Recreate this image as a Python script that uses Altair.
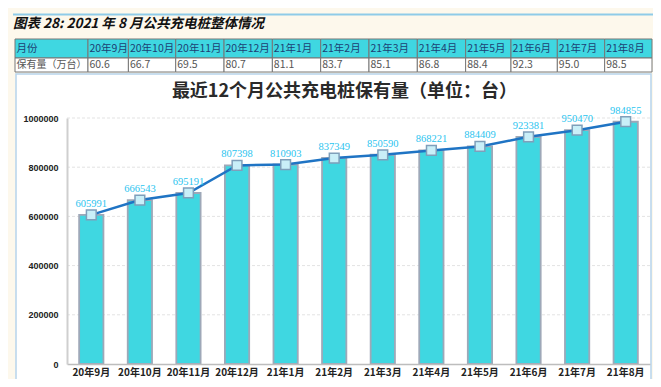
import altair as alt
import pandas as pd

# ---------------- data ----------------
months = ["20年9月", "20年10月", "20年11月", "20年12月", "21年1月", "21年2月",
          "21年3月", "21年4月", "21年5月", "21年6月", "21年7月", "21年8月"]
stock = [605991, 666543, 695191, 807398, 810903, 837349,
         850590, 868221, 884409, 923381, 950470, 984855]
stock_wan = ["60.6", "66.7", "69.5", "80.7", "81.1", "83.7",
             "85.1", "86.8", "88.4", "92.3", "95.0", "98.5"]
table_head = "月份"
table_row = "保有量（万台）"
fig_title = "图表 28: 2021 年 8 月公共充电桩整体情况"
chart_title = "最近12个月公共充电桩保有量（单位：台）"
y_ticks = [0, 200000, 400000, 600000, 800000, 1000000]

# ---------------- layout / style (pixels, plot-area frame) ----------------
PLOT_W, PLOT_H = 583, 246
PAD = {"left": 59, "top": 110, "right": 3, "bottom": 15}
col_widths = [74, 41, 48, 49, 49, 49, 49, 49, 49, 46, 47, 48, 48]
TABLE_X0, TABLE_X1 = -52, 585
ROW_EDGES = [(-79, -60), (-60, -46)]
k = (TABLE_X1 - TABLE_X0) / sum(col_widths)

CJK = "Noto Sans CJK SC"
BAR = "#3fd7e1"
CREAM = "#fdf8ec"

# table built from the data arrays
rows = []
x = TABLE_X0
for i, w in enumerate(col_widths):
    x0, x1 = x, x + w * k
    x = x1
    head = table_head if i == 0 else months[i - 1]
    body = table_row if i == 0 else stock_wan[i - 1]
    rows.append(dict(x0=x0, x1=x1, y0=ROW_EDGES[0][0], y1=ROW_EDGES[0][1],
                     tx=x0 + 1.5, ty=sum(ROW_EDGES[0]) / 2, text=head,
                     fill=BAR, tcol="#1d3f73", fs=10.5))
    rows.append(dict(x0=x0, x1=x1, y0=ROW_EDGES[1][0], y1=ROW_EDGES[1][1],
                     tx=x0 + 1.5, ty=sum(ROW_EDGES[1]) / 2, text=body,
                     fill="#ffffff", tcol="#555555", fs=10 if i == 0 else 10.5))
table_df = pd.DataFrame(rows)

one = pd.DataFrame({"a": [0]})

box = alt.Chart(one).mark_rect(fill="#ffffff", stroke="#b7d4ec", strokeWidth=1.5).encode(
    x=alt.value(-51), x2=alt.value(584), y=alt.value(-44), y2=alt.value(275))

top_rule = alt.Chart(one).mark_rule(color="#8fcbe8", strokeWidth=2).encode(
    x=alt.value(-54), x2=alt.value(586), y=alt.value(-103.5))

fig_title_mark = alt.Chart(one).mark_text(
    font=CJK, fontSize=13.5, fontWeight="bold", fontStyle="italic",
    align="left", baseline="middle", color="#111111").encode(
    x=alt.value(-54), y=alt.value(-94), text=alt.value(fig_title))

chart_title_mark = alt.Chart(one).mark_text(
    font=CJK, fontSize=18, fontWeight="bold",
    align="center", baseline="middle", color="#2a2a2a").encode(
    x=alt.value(277.5), y=alt.value(-26), text=alt.value(chart_title))

cells = alt.Chart(table_df).mark_rect(stroke="#777777", strokeWidth=1).encode(
    x=alt.X("x0:Q", scale=None), x2="x1:Q",
    y=alt.Y("y0:Q", scale=None), y2="y1:Q",
    fill=alt.Fill("fill:N", scale=None))

cell_text = alt.Chart(table_df).mark_text(font=CJK, align="left", baseline="middle").encode(
    x=alt.X("tx:Q", scale=None),
    y=alt.Y("ty:Q", scale=None),
    text="text:N",
    color=alt.Color("tcol:N", scale=None),
    size=alt.Size("fs:Q", scale=None))

df = pd.DataFrame({"month": months, "stock": stock})
grid_df = pd.DataFrame({"stock": y_ticks[1:]})

xenc = alt.X("month:N", sort=months,
             scale=alt.Scale(paddingInner=0.5, paddingOuter=0.25),
             axis=alt.Axis(title=None, labelAngle=0, labelFont=CJK, labelFontWeight="bold",
                           labelFontSize=10, labelColor="#222222", labelPadding=3,
                           ticks=False, domainColor="#bdbdbd", domainWidth=1.5,
                           grid=False, zindex=1))
yscale = alt.Scale(domain=[0, 1000000], nice=False)
yenc = alt.Y("stock:Q", scale=yscale,
             axis=alt.Axis(title=None, values=y_ticks, format="d",
                           labelFont="Liberation Sans", labelFontWeight="bold",
                           labelFontSize=9, labelColor="#222222", labelPadding=9,
                           grid=False, ticks=False, domainColor="#cfcfcf",
                           domainWidth=2, zindex=1))

grid = alt.Chart(grid_df).mark_rule(color="#e3e3e3", strokeDash=[3, 2], strokeWidth=1).encode(
    y=alt.Y("stock:Q", scale=yscale), x=alt.value(0), x2=alt.value(PLOT_W))

base = alt.Chart(df)
bars = base.mark_bar(fill=BAR, stroke="#9ea8b8", strokeWidth=1.8).encode(x=xenc, y=yenc)
line = base.mark_line(color="#1f74c4", strokeWidth=2.5).encode(x=xenc, y=yenc)
pts = base.mark_square(size=95, fill="#c9eff8", stroke="#7f9fba",
                       strokeWidth=1.5, opacity=1).encode(x=xenc, y=yenc)
labels = base.mark_text(dy=-11, color="#2ac4ef", font="Liberation Serif",
                        fontSize=10.5, baseline="middle").encode(
    x=xenc, y=yenc, text=alt.Text("stock:Q", format="d"))

chart = alt.layer(
    box, top_rule, fig_title_mark, cells, cell_text, chart_title_mark,
    grid, bars, line, pts, labels
).properties(
    width=PLOT_W, height=PLOT_H,
    autosize=alt.AutoSizeParams(type="none"),
    padding=PAD,
).configure(background=CREAM).configure_view(stroke=None)

chart.save("out.html", embed_options={"renderer": "svg", "actions": False})
